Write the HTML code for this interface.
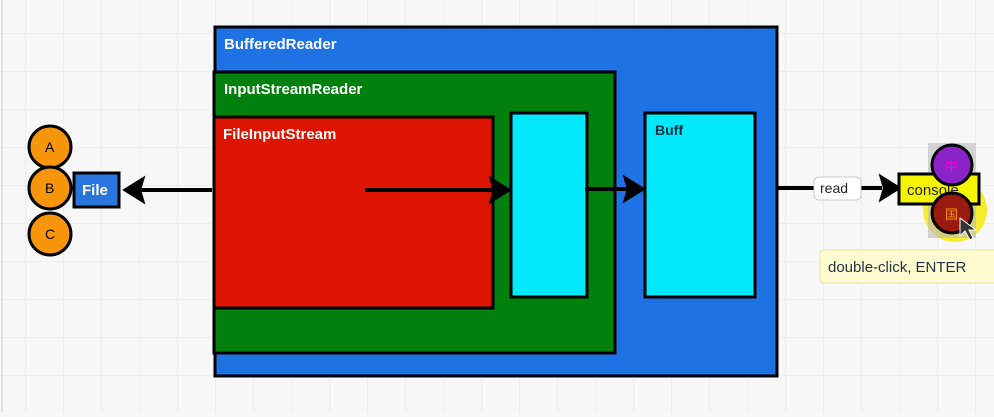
<!DOCTYPE html>
<html><head><style>
body{margin:0;width:994px;height:412px;overflow:hidden;background:#f7f7f7;}
svg text{font-family:"Liberation Sans",sans-serif;font-weight:bold;}
svg text.n{font-weight:normal;}
</style></head><body>
<svg width="994" height="412" xmlns="http://www.w3.org/2000/svg">
<defs>
<pattern id="g" width="38" height="38" patternUnits="userSpaceOnUse" x="-12" y="-4">
<path d="M38 0V38H0" fill="none" stroke="#e4e4e4" stroke-width="1"/></pattern>
</defs>
<rect width="994" height="412" fill="url(#g)"/>
<line x1="2" y1="0" x2="2" y2="412" stroke="#ccc"/>
<rect x="215" y="27" width="562" height="349" fill="#1f72e3" stroke="#000" stroke-width="3"/>
<text x="224" y="49" fill="#fff" font-size="15">BufferedReader</text>
<rect x="214" y="72" width="401" height="281" fill="#02800e" stroke="#000" stroke-width="3"/>
<text x="224" y="94" fill="#fff" font-size="15">InputStreamReader</text>
<rect x="214" y="117" width="279" height="191" fill="#dd1500" stroke="#000" stroke-width="3"/>
<text x="223" y="139" fill="#fff" font-size="15">FileInputStream</text>
<rect x="511" y="113" width="76" height="184" fill="#00e8fa" stroke="#000" stroke-width="3"/>
<rect x="645" y="113" width="110" height="184" fill="#00e8fa" stroke="#000" stroke-width="3"/>
<text x="655" y="135" fill="#003040" font-size="14">Buff</text>
<g stroke="#000" stroke-width="4" fill="#000">
<line x1="365" y1="190" x2="495" y2="190"/><path d="M508 190 L492 180 L495 190 L492 200Z"/>
<line x1="585" y1="189" x2="628" y2="189"/><path d="M642 189 L626 179 L629 189 L626 199Z"/>
<line x1="212" y1="190" x2="138" y2="190"/><path d="M126 190 L142 180 L139 190 L142 200Z"/>
<line x1="778" y1="188" x2="882" y2="188"/><path d="M898 188 L882 178 L885 188 L882 198Z"/>
</g>
<rect x="814" y="177" width="47" height="23" rx="5" fill="#fff" stroke="#ccc"/>
<text class="n" x="820" y="193" fill="#222" font-size="14">read</text>
<g stroke="#000" stroke-width="3" fill="#f7960a">
<circle cx="50" cy="147" r="21"/><circle cx="50" cy="188" r="21"/><circle cx="50" cy="234" r="21"/>
</g>
<text class="n" x="45" y="152" font-size="14">A</text>
<text class="n" x="45" y="193" font-size="14">B</text>
<text class="n" x="45" y="239" font-size="14">C</text>
<rect x="74" y="173" width="45" height="34" fill="#2a74de" stroke="#000" stroke-width="3"/>
<text x="82" y="195" fill="#fff" font-size="15">File</text>
<circle cx="955" cy="210" r="32" fill="#f4ec1a" opacity="0.9"/>
<rect x="928" y="143" width="48" height="95" fill="#bbb" opacity="0.6"/>
<rect x="899" y="174" width="80" height="30" fill="#f5f500" stroke="#000" stroke-width="3"/>
<text class="n" x="907" y="195" fill="#222" font-size="15">console</text>
<circle cx="952" cy="165" r="20" fill="#8a23c8" stroke="#000" stroke-width="3"/>
<text class="n" x="945" y="171" fill="#f0c" font-size="13" style="font-family:'Noto Sans CJK SC',sans-serif">中</text>
<circle cx="952" cy="213" r="20" fill="#9a1a10" stroke="#000" stroke-width="3"/>
<text class="n" x="945" y="219" fill="#f90" font-size="13" style="font-family:'Noto Sans CJK SC',sans-serif">国</text>
<path d="M960 218 L960 236 L965 231 L970 240 L973 238 L969 230 L976 230Z" fill="#333" stroke="#fff"/>
<rect x="820" y="250" width="180" height="33" rx="4" fill="#fffbd0" stroke="#e6e0a8"/>
<text class="n" x="828" y="272" fill="#234" font-size="15">double-click, ENTER</text>
</svg>
</body></html>
